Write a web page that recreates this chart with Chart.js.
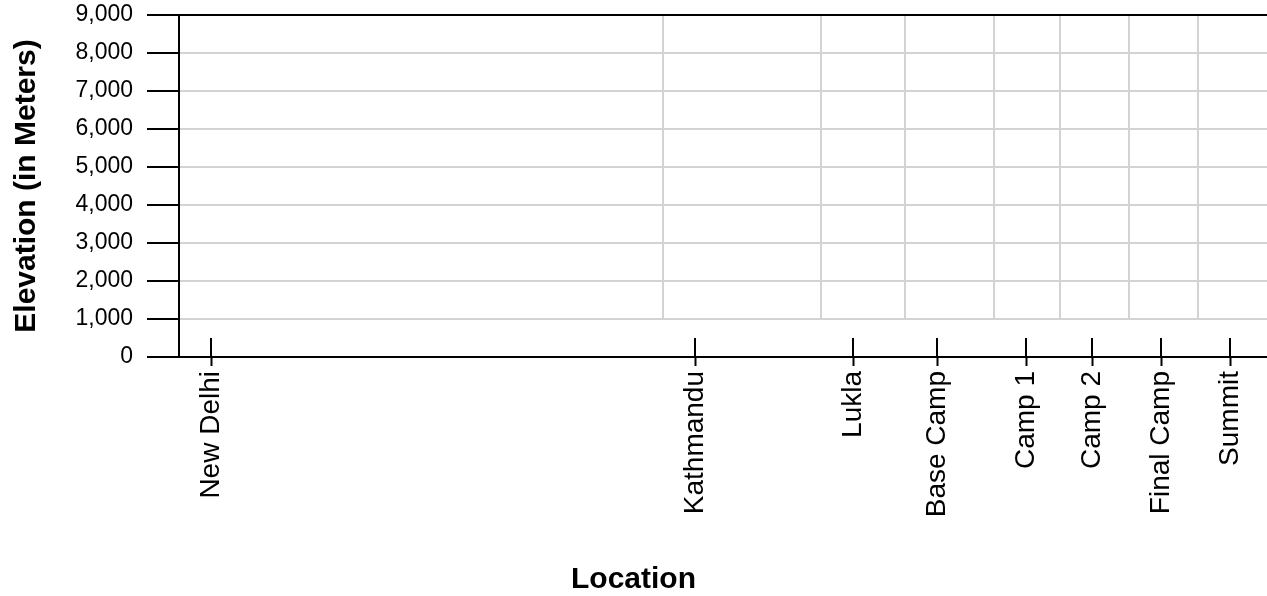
<!DOCTYPE html>
<html>
<head>
<meta charset="utf-8">
<script src="https://cdn.jsdelivr.net/npm/chart.js@4.4.1/dist/chart.umd.min.js"></script>
<style>
  html, body { margin: 0; padding: 0; background: #fff; }
  #wrap { width: 1267px; height: 596px; position: relative; }
</style>
</head>
<body>
<div id="wrap"><canvas id="elevationChart"></canvas></div>
<script>
// Locations on the route and where each sits along the x axis
const locations = ['New Delhi', 'Kathmandu', 'Lukla', 'Base Camp', 'Camp 1', 'Camp 2', 'Final Camp', 'Summit'];
const locationPos = [0, 484, 642, 726, 815, 881, 950, 1019];
const xRange = [-32, 1056];

// Elevation axis ticks
const elevationTicks = [0, 1000, 2000, 3000, 4000, 5000, 6000, 7000, 8000, 9000];

// the source chart has no plotted points
const elevations = [];

Chart.defaults.font.family = '"Liberation Sans", Arial, sans-serif';
Chart.defaults.color = '#000';

// vertical grid lines sit a little left of the ticks and stop at 1,000 m,
// and the x ticks poke up through the axis line
const offsetGrid = {
    id: 'offsetGrid',
    beforeDraw(chart) {
        const { ctx, scales: { x, y } } = chart;
        const top = y.getPixelForValue(elevationTicks[elevationTicks.length - 1]);
        const bottom = y.getPixelForValue(elevationTicks[1]);
        ctx.save();
        ctx.strokeStyle = '#d3d3d3';
        ctx.lineWidth = 2;
        locationPos.forEach(v => {
            const px = Math.round(x.getPixelForValue(v)) - 32;
            ctx.beginPath();
            ctx.moveTo(px, top);
            ctx.lineTo(px, bottom);
            ctx.stroke();
        });
        ctx.restore();
    },
    afterDraw(chart) {
        const { ctx, scales: { x } } = chart;
        ctx.save();
        ctx.strokeStyle = '#000';
        ctx.lineWidth = 2;
        locationPos.forEach(v => {
            const px = Math.round(x.getPixelForValue(v));
            ctx.beginPath();
            ctx.moveTo(px, x.top - 19);
            ctx.lineTo(px, x.top);
            ctx.stroke();
        });
        ctx.restore();
    }
};

const ctx = document.getElementById('elevationChart').getContext('2d');
new Chart(ctx, {
    type: 'scatter',
    data: {
        datasets: [{
            data: elevations
        }]
    },
    options: {
        responsive: true,
        maintainAspectRatio: false,
        animation: false,
        layout: {
            padding: { top: 15, right: 0, bottom: 0, left: 0 }
        },
        plugins: {
            legend: { display: false },
            tooltip: { enabled: false },
            // x axis title is centred on the whole canvas in the original
            title: {
                display: true,
                position: 'bottom',
                text: 'Location',
                color: '#000',
                font: { size: 30, weight: 'bold', lineHeight: 1.1 },
                padding: { top: 0, bottom: 0 }
            }
        },
        scales: {
            x: {
                type: 'linear',
                min: xRange[0],
                max: xRange[1],
                afterBuildTicks: s => { s.ticks = locationPos.map(v => ({ value: v })); },
                afterFit: s => {
                    s.height = 206;
                    s.paddingLeft = 0;
                    s.paddingRight = 0;
                },
                grid: {
                    drawOnChartArea: false,
                    tickLength: 9,
                    tickColor: '#000',
                    tickWidth: 2
                },
                border: { color: '#000', width: 2 },
                ticks: {
                    autoSkip: false,
                    minRotation: 90,
                    maxRotation: 90,
                    padding: 5,
                    font: { size: 28 },
                    callback: v => locations[locationPos.indexOf(v)]
                }
            },
            y: {
                min: 0,
                max: 9000,
                afterBuildTicks: s => { s.ticks = elevationTicks.map(v => ({ value: v })); },
                afterFit: s => {
                    s.width = 179;
                    s.paddingTop = 0;
                    s.paddingBottom = 0;
                },
                grid: {
                    color: c => (c.tick && (c.tick.value === 0 || c.tick.value === 9000)) ? '#000' : '#d3d3d3',
                    lineWidth: 2,
                    tickLength: 32,
                    tickColor: '#000',
                    tickWidth: 2
                },
                border: { color: '#000', width: 2 },
                ticks: {
                    padding: 14,
                    font: { size: 23 }
                },
                title: {
                    display: true,
                    text: 'Elevation (in Meters)',
                    font: { size: 30, weight: 'bold' },
                    padding: { top: 9, bottom: 0 }
                }
            }
        }
    },
    plugins: [offsetGrid]
});
</script>
</body>
</html>
